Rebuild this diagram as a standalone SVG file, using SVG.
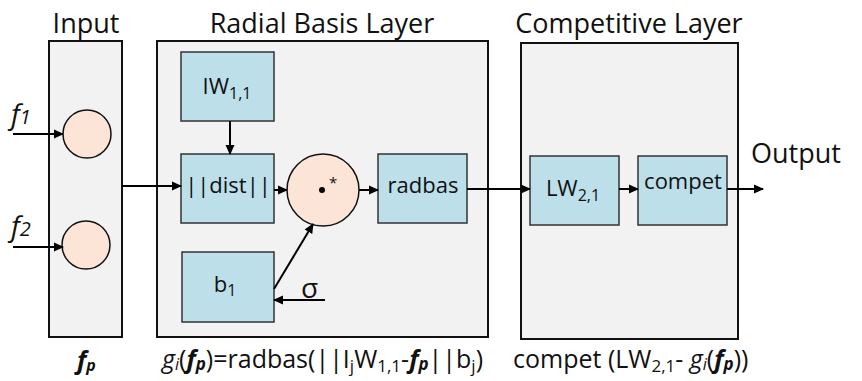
<svg xmlns="http://www.w3.org/2000/svg" width="862" height="381" viewBox="0 0 862 381">
<style>
.panel{fill:#f2f2f2;stroke:#111;stroke-width:2}
.box{fill:#bcdfea;stroke:#333;stroke-width:1.5}
.neu{fill:#fce5d6;stroke:#111;stroke-width:1.5}
.t{font-family:"Open Sans","Noto Sans",sans-serif;fill:#111}
.title{font-size:27px;text-anchor:middle}
.lbl{font-size:22px;text-anchor:middle}
.eq{font-size:25px}
.ln{stroke:#000;stroke-width:2;fill:none;marker-end:url(#ah)}
</style>
<defs>
<marker id="ah" markerWidth="10" markerHeight="10" refX="9" refY="5" orient="auto" markerUnits="userSpaceOnUse">
<path d="M0,0.5 L10,5 L0,9.5 Z" fill="#000"/>
</marker>
</defs>
<rect width="862" height="381" fill="#fff"/>
<g id="input-layer">
<rect class="panel" x="49" y="41" width="73" height="296"/>
<text class="t title" x="86" y="33">Input</text>
<circle class="neu" cx="87" cy="134" r="24"/>
<circle class="neu" cx="86" cy="245" r="24"/>
<text class="t" x="11" y="124" font-style="italic" font-size="28">f<tspan font-size="20">1</tspan></text>
<text class="t" x="11" y="236" font-style="italic" font-size="28">f<tspan font-size="20">2</tspan></text>
<text class="t" x="77" y="369" font-style="italic" font-weight="bold" font-size="25">f<tspan font-size="16" dy="2">p</tspan></text>
</g>
<g id="radial-basis-layer">
<rect class="panel" x="157" y="41" width="331" height="296"/>
<text class="t title" x="322" y="33">Radial Basis Layer</text>
</g>
<g id="IW">
<rect class="box" x="181" y="52" width="93" height="69"/>
<text class="t lbl" x="227" y="94">IW<tspan font-size="16" dy="5">1,1</tspan></text>
</g>
<g id="dist">
<rect class="box" x="181" y="154" width="93" height="69"/>
<text class="t lbl" x="228" y="193">||dist||</text>
</g>
<g id="b1">
<rect class="box" x="182" y="252" width="92" height="70"/>
<text class="t lbl" x="225" y="292">b<tspan font-size="16" dy="4">1</tspan></text>
</g>
<g id="mult">
<circle class="neu" cx="323" cy="190" r="36"/>
<circle cx="322" cy="190" r="3" fill="#000"/>
<text class="t" x="329" y="188" font-size="15">*</text>
</g>
<g id="radbas">
<rect class="box" x="378" y="154" width="89" height="69"/>
<text class="t lbl" x="423" y="193">radbas</text>
</g>
<g id="competitive-layer">
<rect class="panel" x="521" y="43" width="217" height="296"/>
<text class="t title" x="629" y="33">Competitive Layer</text>
</g>
<g id="LW">
<rect class="box" x="530" y="156" width="89" height="69"/>
<text class="t lbl" x="573" y="196">LW<tspan font-size="16" dy="5">2,1</tspan></text>
</g>
<g id="compet">
<rect class="box" x="638" y="156" width="89" height="69"/>
<text class="t lbl" x="683" y="189">compet</text>
</g>
<g id="output">
<text class="t" x="751" y="163" font-size="27">Output</text>
</g>
<g id="sigma">
<text class="t" x="301" y="298" font-size="28">σ</text>
</g>
<g id="equations">
<text class="t eq" x="162" y="368"><tspan font-style="italic">g</tspan><tspan font-style="italic" font-size="16" dy="2">i</tspan><tspan dy="-2">(</tspan><tspan font-style="italic" font-weight="bold">f</tspan><tspan font-style="italic" font-weight="bold" font-size="17" dy="2">p</tspan><tspan dy="-2">)=radbas(||I</tspan><tspan font-size="17" dy="4">j</tspan><tspan dy="-4">W</tspan><tspan font-size="17" dy="4">1,1</tspan><tspan dy="-4">-</tspan><tspan font-style="italic" font-weight="bold">f</tspan><tspan font-style="italic" font-weight="bold" font-size="17" dy="2">p</tspan><tspan dy="-2">||b</tspan><tspan font-size="17" dy="4">j</tspan><tspan dy="-4">)</tspan></text>
<text class="t eq" x="513" y="368">compet (LW<tspan font-size="17" dy="4">2,1</tspan><tspan dy="-4">- </tspan><tspan font-style="italic">g</tspan><tspan font-style="italic" font-size="16" dy="2">i</tspan><tspan dy="-2">(</tspan><tspan font-style="italic" font-weight="bold">f</tspan><tspan font-style="italic" font-weight="bold" font-size="17" dy="2">p</tspan><tspan dy="-2">))</tspan></text>
</g>
<g id="connectors">
<line class="ln" x1="13" y1="134" x2="63" y2="134"/>
<line class="ln" x1="13" y1="247" x2="63" y2="247"/>
<line class="ln" x1="122" y1="186" x2="181" y2="186"/>
<line class="ln" x1="230" y1="121" x2="230" y2="154"/>
<line class="ln" x1="274" y1="190" x2="287" y2="190"/>
<line class="ln" x1="359" y1="190" x2="378" y2="190"/>
<line class="ln" x1="467" y1="189" x2="530" y2="189"/>
<line class="ln" x1="619" y1="189" x2="638" y2="189"/>
<line class="ln" x1="727" y1="189" x2="763" y2="189"/>
<line class="ln" x1="274" y1="289" x2="313" y2="224"/>
<line class="ln" x1="325" y1="300" x2="274" y2="300"/>
</g>
</svg>
